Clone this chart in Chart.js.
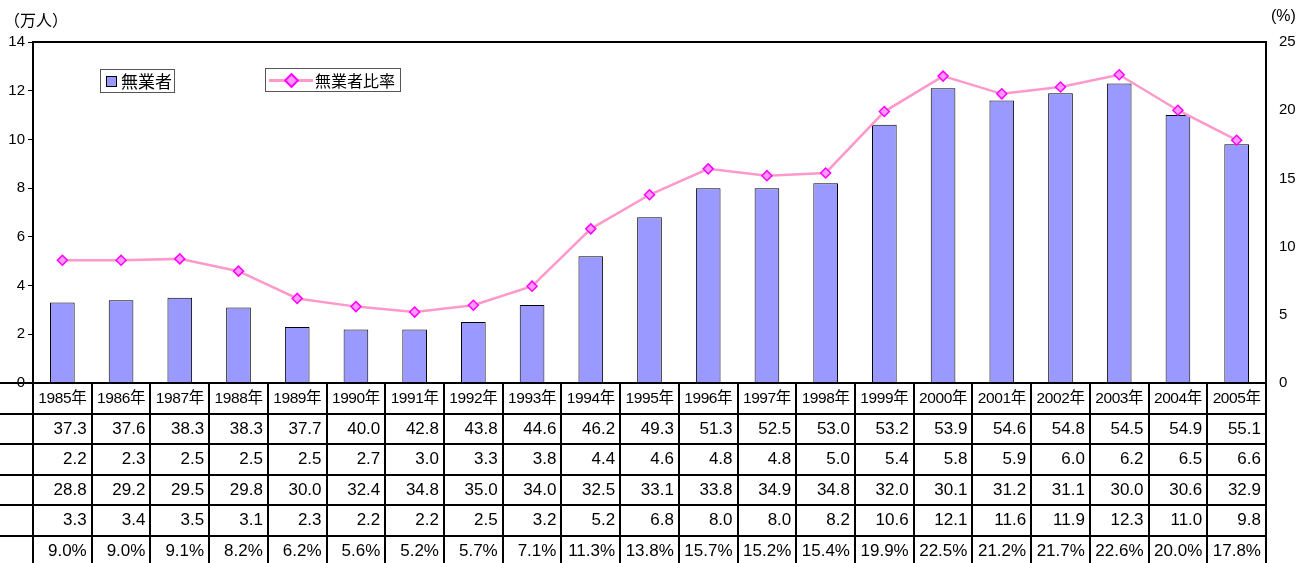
<!DOCTYPE html>
<html>
<head>
<meta charset="utf-8">
<script src="https://cdn.jsdelivr.net/npm/chart.js@4.4.1/dist/chart.umd.min.js"></script>
<style>
  body { margin: 0; background: #fff; font-family: "Liberation Sans", Arial, "Noto Sans CJK JP", sans-serif; }
  #wrap { position: relative; width: 1302px; height: 563px; overflow: hidden; }
  #myChart { position: absolute; left: 0; top: 0; }
  .unit { position: absolute; top: 7px; font-size: 16px; color: #000; }
  .leyenda { position: absolute; border: 1px solid #555; background: #fff; height: 24px; box-sizing: border-box;
             font-family: "Noto Sans CJK JP", sans-serif; font-size: 16px; line-height: 22px; color: #000; }
  .celda { position: absolute; box-sizing: border-box; border-right: 2px solid #000; border-bottom: 2px solid #000;
           text-align: right; padding-right: 4px; color: #000; white-space: nowrap; }
</style>
</head>
<body>
<div id="wrap">
  <canvas id="myChart" width="1302" height="563"></canvas>
  <div class="unit" style="left:4px;font-family:'Noto Sans CJK JP',sans-serif;">（万人）</div>
  <div class="unit" style="left:1271px;">(%)</div>
  <div class="leyenda" style="left:100px;top:69px;width:75px;">
    <span style="position:absolute;left:5px;top:6px;width:9px;height:9px;background:#9999ff;border:1px solid #000;"></span>
    <span style="position:absolute;left:20px;top:0;font-size:17px;">無業者</span>
  </div>
  <div class="leyenda" style="left:265px;top:68px;width:136px;">
    <span style="position:absolute;left:3px;top:10px;width:44px;height:3px;background:#ff99cc;"></span>
    <span style="position:absolute;left:20px;top:6px;width:7px;height:7px;background:#ff99ff;border:2px solid #ff00ff;transform:rotate(45deg);"></span>
    <span style="position:absolute;left:49px;top:0;">無業者比率</span>
  </div>
</div>
<script>
const ctx = document.getElementById("myChart");
const wrap = document.getElementById("wrap");

//***************** DATOS ***************/
const anios = ["1985年", "1986年", "1987年", "1988年", "1989年", "1990年", "1991年",
  "1992年", "1993年", "1994年", "1995年", "1996年", "1997年", "1998年", "1999年",
  "2000年", "2001年", "2002年", "2003年", "2004年", "2005年"];
const fila1 = [37.3, 37.6, 38.3, 38.3, 37.7, 40.0, 42.8, 43.8, 44.6, 46.2, 49.3, 51.3, 52.5, 53.0, 53.2, 53.9, 54.6, 54.8, 54.5, 54.9, 55.1];
const fila2 = [2.2, 2.3, 2.5, 2.5, 2.5, 2.7, 3.0, 3.3, 3.8, 4.4, 4.6, 4.8, 4.8, 5.0, 5.4, 5.8, 5.9, 6.0, 6.2, 6.5, 6.6];
const fila3 = [28.8, 29.2, 29.5, 29.8, 30.0, 32.4, 34.8, 35.0, 34.0, 32.5, 33.1, 33.8, 34.9, 34.8, 32.0, 30.1, 31.2, 31.1, 30.0, 30.6, 32.9];
const mugyosha = [3.3, 3.4, 3.5, 3.1, 2.3, 2.2, 2.2, 2.5, 3.2, 5.2, 6.8, 8.0, 8.0, 8.2, 10.6, 12.1, 11.6, 11.9, 12.3, 11.0, 9.8];
const hiritsu = [9.0, 9.0, 9.1, 8.2, 6.2, 5.6, 5.2, 5.7, 7.1, 11.3, 13.8, 15.7, 15.2, 15.4, 19.9, 22.5, 21.2, 21.7, 22.6, 20.0, 17.8];
const ticksIzq = [0, 2, 4, 6, 8, 10, 12, 14];
const ticksDer = [0, 5, 10, 15, 20, 25];

const fuente = { family: "'Liberation Sans', Arial, sans-serif", size: 15 };

// marco del area del grafico
const marco = {
  id: "marco",
  afterDraw(chart) {
    const a = chart.chartArea;
    const c = chart.ctx;
    c.save();
    c.strokeStyle = "#000";
    c.lineWidth = 2;
    c.strokeRect(a.left, a.top, a.right - a.left, a.bottom - a.top);
    c.restore();
  },
};

const grafico = new Chart(ctx, {
  data: {
    labels: anios,
    datasets: [
      {
        type: "line",
        label: "無業者比率",
        data: hiritsu,
        yAxisID: "y2",
        borderColor: "#ff99cc",
        borderWidth: 2.5,
        pointStyle: "rectRot",
        pointRadius: 5,
        pointBackgroundColor: "#ff99ff",
        pointBorderColor: "#ff00ff",
        pointBorderWidth: 1.5,
        tension: 0,
        order: 0,
      },
      {
        type: "bar",
        label: "無業者",
        data: mugyosha,
        yAxisID: "y",
        backgroundColor: "#9999ff",
        borderColor: "#000",
        borderWidth: 1,
        barPercentage: 0.42,
        categoryPercentage: 1,
        order: 1,
      },
    ],
  },
  options: {
    responsive: false,
    animation: false,
    layout: { padding: { top: 42, bottom: 180 } },
    plugins: { legend: { display: false }, tooltip: { enabled: false } },
    scales: {
      x: {
        ticks: { display: false },
        grid: { display: false },
        border: { color: "#000", width: 2 },
        afterFit: (s) => { s.height = 0; },
      },
      y: {
        position: "left",
        min: 0,
        max: 14,
        afterBuildTicks: (s) => { s.ticks = ticksIzq.map((v) => ({ value: v })); },
        ticks: { color: "#000", font: fuente, padding: 3 },
        grid: { drawOnChartArea: false, color: "#000", tickLength: 5 },
        border: { color: "#000", width: 2 },
        afterFit: (s) => { s.width = 33; },
      },
      y2: {
        position: "right",
        min: 0,
        max: 25,
        afterBuildTicks: (s) => { s.ticks = ticksDer.map((v) => ({ value: v })); },
        ticks: { color: "#000", font: fuente, padding: 13 },
        grid: { display: false, drawTicks: false },
        border: { display: false },
        afterFit: (s) => { s.width = 36; },
      },
    },
  },
  plugins: [marco],
});

//***************** TABLA DE DATOS ***************/
const area = grafico.chartArea;
const escalaX = grafico.scales.x;
const ancho = (area.right - area.left) / anios.length;
const altoFila = 30.5;

const filas = [
  { valores: anios, fmt: (v) => v, size: 15.5, align: "center" },
  { valores: fila1, fmt: (v) => v.toFixed(1), size: 17 },
  { valores: fila2, fmt: (v) => v.toFixed(1), size: 17 },
  { valores: fila3, fmt: (v) => v.toFixed(1), size: 17 },
  { valores: mugyosha, fmt: (v) => v.toFixed(1), size: 17 },
  { valores: hiritsu, fmt: (v) => v.toFixed(1) + "%", size: 17 },
];

const crearCelda = (x, y, w, h, texto, size, align) => {
  const d = document.createElement("div");
  d.className = "celda";
  d.style.left = x + "px";
  d.style.top = y + "px";
  d.style.width = w + "px";
  d.style.height = h + "px";
  d.style.lineHeight = h - 2 + "px";
  d.style.fontSize = size + "px";
  if (align === "center") {
    d.style.textAlign = "center";
    d.style.padding = "0";
    d.style.letterSpacing = "-0.4px";
  }
  d.textContent = texto;
  wrap.appendChild(d);
};

// linea superior de la tabla
const linea = document.createElement("div");
linea.style.cssText = `position:absolute;left:0;top:${area.bottom - 1}px;width:${area.right}px;height:2px;background:#000;`;
wrap.appendChild(linea);

filas.forEach((fila, r) => {
  const y = area.bottom + r * altoFila;
  crearCelda(-2, y, area.left + 3, altoFila + 1, "", fila.size);
  fila.valores.forEach((v, i) => {
    const cx = escalaX.getPixelForValue(i);
    crearCelda(cx - ancho / 2 + 1, y, ancho, altoFila + 1, fila.fmt(v), fila.size, fila.align);
  });
});
</script>
</body>
</html>
